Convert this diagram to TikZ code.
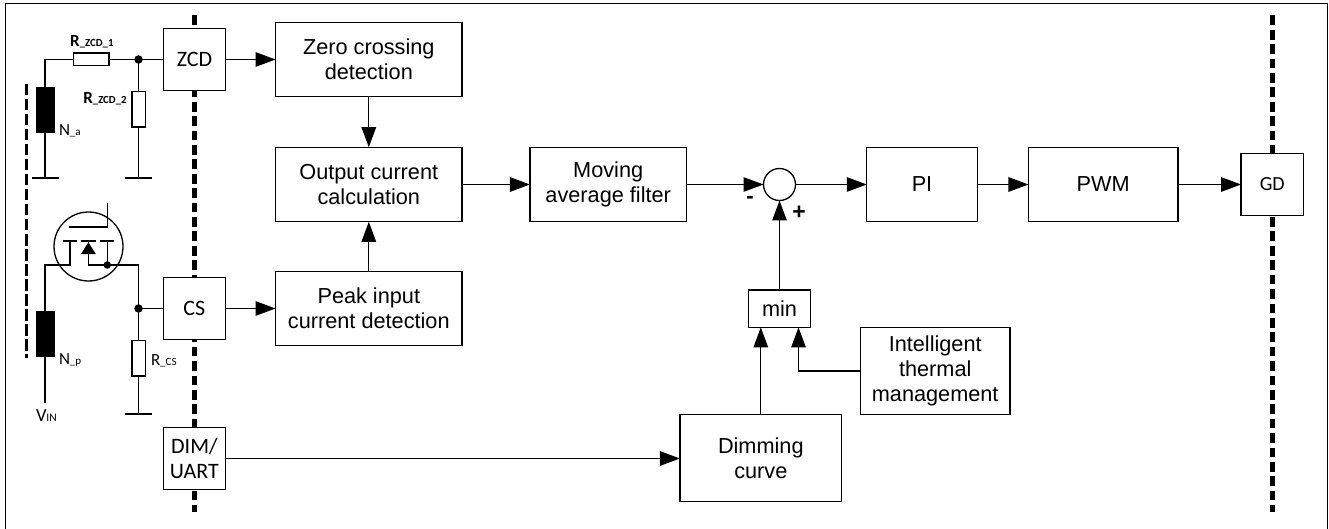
\documentclass[tikz,border=0pt]{standalone}
\usepackage{fontspec}
\setmainfont{Liberation Sans}
\newfontfamily\calfont{Carlito}
\usetikzlibrary{arrows.meta}
\newcommand{\fsz}[2]{\fontsize{#1pt}{#2pt}\selectfont}
\tikzset{
  wire/.style={line width=1.3pt,line cap=butt,line join=miter},
  arr/.style={wire,-{Triangle[length=20pt,width=14.5pt,inset=0pt]}},
  blockbox/.style={draw=black,fill=white,line width=1.3pt,inner sep=0pt,outer sep=0pt,align=center,font=\fsz{21.7}{25.2}},
  pinbox/.style={blockbox,minimum width=62.5pt,minimum height=62.2pt,font=\calfont\fsz{22}{25.5}},
  resbox/.style={draw=black,fill=white,line width=1.3pt,inner sep=0pt,outer sep=0pt},
  coil/.style={draw=black,fill=black,inner sep=0pt,outer sep=0pt,minimum width=18.6pt,minimum height=45pt},
  dot/.style={circle,fill=black,inner sep=0pt,outer sep=0pt,minimum size=#1},
  groundbar/.style={line width=1.8pt},
  barrier/.style={line width=5.8pt,dash pattern=on 9.7pt off 4.7pt},
  fine/.style={line width=2.4pt,dash pattern=on 11.5pt off 3.5pt},
  label/.style={inner sep=0pt,outer sep=0pt,font=\calfont\fsz{17}{19},anchor=base west},
  gatebar/.style={line width=2pt},
  mos/.style={line width=1.3pt}
}
\begin{document}
\begin{tikzpicture}[x=1pt,y=-1pt]
\useasboundingbox (0,0) rectangle (1329,529);
\draw[line width=1.3pt] (5.5,529) -- (5.5,3.5) -- (1327.5,3.5) -- (1327.5,529);
% isolation barriers
\coordinate (bar1t) at (194.5,15.5); \coordinate (bar1b) at (194.5,511.5);
\coordinate (bar2t) at (1272.5,15.5); \coordinate (bar2b) at (1272.5,511.5);
\draw[barrier] (bar1t) -- (bar1b);
\draw[barrier] (bar2t) -- (bar2b);
\coordinate (finet) at (26.5,84); \coordinate (fineb) at (26.5,358);
\draw[fine] (finet) -- (fineb);
% pin boxes
\node[pinbox] (zcd) at (194.4,59.5) {ZCD};
\node[pinbox] (cs) at (194.4,308.5) {CS};
\node[pinbox] (dim) at (194.4,458.5) {DIM/\\UART};
\node[pinbox,minimum height=62.5pt,font=\calfont\fsz{20}{24}] (gd) at (1272.3,184.5) {GD};
% blocks
\node[blockbox,minimum width=186.5pt,minimum height=74.6pt] (zero) at (368.8,59.5) {Zero crossing\\detection};
\node[blockbox,minimum width=186.5pt,minimum height=74.6pt] (out) at (368.8,184.5) {Output current\\calculation};
\node[blockbox,minimum width=186.5pt,minimum height=74.6pt] (peak) at (368.8,308.5) {Peak input\\current detection};
\node[blockbox,minimum width=156.5pt,minimum height=74.6pt] (avg) at (608.2,184.5) {Moving\\average filter};
\node[blockbox,circle,minimum size=32pt] (sum) at (779.5,184.5) {};
\node[blockbox,minimum width=110.5pt,minimum height=74.6pt] (pi) at (922,184.5) {PI};
\node[blockbox,minimum width=149.5pt,minimum height=74.6pt] (pwm) at (1103.2,184.5) {PWM};
\node[blockbox,minimum width=62.5pt,minimum height=37.3pt] (min) at (779.5,308.7) {min};
\node[blockbox,minimum width=149.7pt,minimum height=87.4pt] (therm) at (935.2,371) {Intelligent\\thermal\\management};
\node[blockbox,minimum width=161.7pt,minimum height=87pt] (dimc) at (760.8,458.2) {Dimming\\curve};
% block connectors
\draw[arr] (zcd.east) -- (zero.west);
\draw[arr] (cs.east) -- (peak.west);
\draw[arr] (zero.south) -- (out.north);
\draw[arr] (peak.north) -- (out.south);
\draw[arr] (out.east) -- (avg.west);
\draw[arr] (avg.east) -- (sum.west);
\draw[arr] (sum.east) -- (pi.west);
\draw[arr] (pi.east) -- (pwm.west);
\draw[arr] (pwm.east) -- (gd.west);
\draw[arr] (min.north) -- (sum.south);
\draw[arr] (dim.east) -- (dim.east -| dimc.west);
\draw[arr] (dimc.north) -- (dimc.north |- min.south);
\coordinate (mint) at (798.5,327.4);
\draw[arr] (therm.west) -| (mint);
\node[inner sep=0pt,font=\bfseries\fsz{22}{24}] (minus) at (750,200) {-};
\node[inner sep=0pt,font=\bfseries\fsz{23}{24}] (plus) at (799,212.5) {+};
% ZCD input network
\node[resbox,minimum width=35.4pt,minimum height=12.7pt] (r1) at (91.4,59.5) {};
\node[resbox,minimum width=13.3pt,minimum height=35.3pt] (r2) at (138.5,109.3) {};
\node[coil] (na) at (45,109.6) {};
\coordinate (jz) at (138.5,59.5);
\coordinate (corner) at (45,59.5);
\coordinate (gnda) at (45,177.7);
\coordinate (gndz) at (138.5,177.7);
\draw[wire] (zcd.west) -- (jz) -- (r1.east);
\draw[wire] (r1.west) -- (corner) -- (na.north);
\draw[wire] (jz) -- (r2.north);
\draw[wire] (r2.south) -- (gndz);
\draw[wire] (na.south) -- (gnda);
\draw[groundbar] ([xshift=-13.5pt]gnda) -- ([xshift=13.5pt]gnda);
\draw[groundbar] ([xshift=-13.5pt]gndz) -- ([xshift=13.5pt]gndz);
\node[dot=8.5pt] (jzd) at (jz) {};
\node[label] (lr1) at (70.2,46.5) {\bfseries R{\fsz{10.8}{12}\_ZCD\_1}};
\node[label] (lr2) at (83.3,103.5) {\bfseries R{\fsz{10.8}{12}\_ZCD\_2}};
\node[label] (lna) at (59,135.5) {N{\fsz{11}{12}\_a}};
% MOSFET and current sense
\node[draw,line width=1.3pt,circle,minimum size=69pt,inner sep=0pt,outer sep=0pt] (q) at (88.5,246.5) {};
\coordinate (gtop) at (107.7,202.7);
\coordinate (gc) at (107.7,227.3);
\coordinate (gl) at (69.3,227.3);
\draw[mos] (gtop) -- (gc);
\draw[gatebar] (gc) -- (gl);
\coordinate (dch) at (70,240.7);
\coordinate (mch) at (88.4,240.7);
\coordinate (sch) at (107.3,240.7);
\draw[gatebar] ([xshift=-7.3pt]dch) -- ([xshift=7pt]dch);
\draw[gatebar] ([xshift=-7.4pt]mch) -- ([xshift=7.6pt]mch);
\draw[gatebar] ([xshift=-7.3pt]sch) -- ([xshift=7pt]sch);
\coordinate (dw) at (70,265);
\coordinate (mw) at (88.4,265);
\coordinate (sw) at (107.3,265);
\coordinate (cr) at (138.5,265);
\coordinate (jc) at (138.5,308.5);
\coordinate (cl) at (45,265);
\node[coil] (np) at (45,333.5) {};
\coordinate (vin) at (45,402.7);
\draw[wire] (np.north) -- (cl) -- (dw) -- (dch);
\draw[wire] (np.south) -- (vin);
\draw[wire] (mch) -- (mw) -- (cr) -- (jc);
\draw[wire] (sch) -- (sw);
\fill (mch) ++(0,1.5) -- ++(-7.5,12) -- ++(15,0) -- cycle;
\node[dot=7.5pt] (swd) at (sw) {};
\node[resbox,minimum width=13.3pt,minimum height=35.3pt] (rcs) at (138.5,358.3) {};
\coordinate (gndc) at (138.5,414.3);
\draw[wire] (cs.west) -- (jc) -- (rcs.north);
\draw[wire] (rcs.south) -- (gndc);
\draw[groundbar] ([xshift=-13.5pt]gndc) -- ([xshift=13.5pt]gndc);
\node[dot=8.5pt] (jcd) at (jc) {};
\node[label] (lnp) at (59,364) {N{\fsz{11}{12}\_p}};
\node[label] (lcs) at (151,365) {R{\fsz{11}{12}\_CS}};
\node[label] (lvin) at (36,421) {\fsz{18.5}{20}V{\fsz{11.5}{12}IN}};
\end{tikzpicture}
\end{document}
